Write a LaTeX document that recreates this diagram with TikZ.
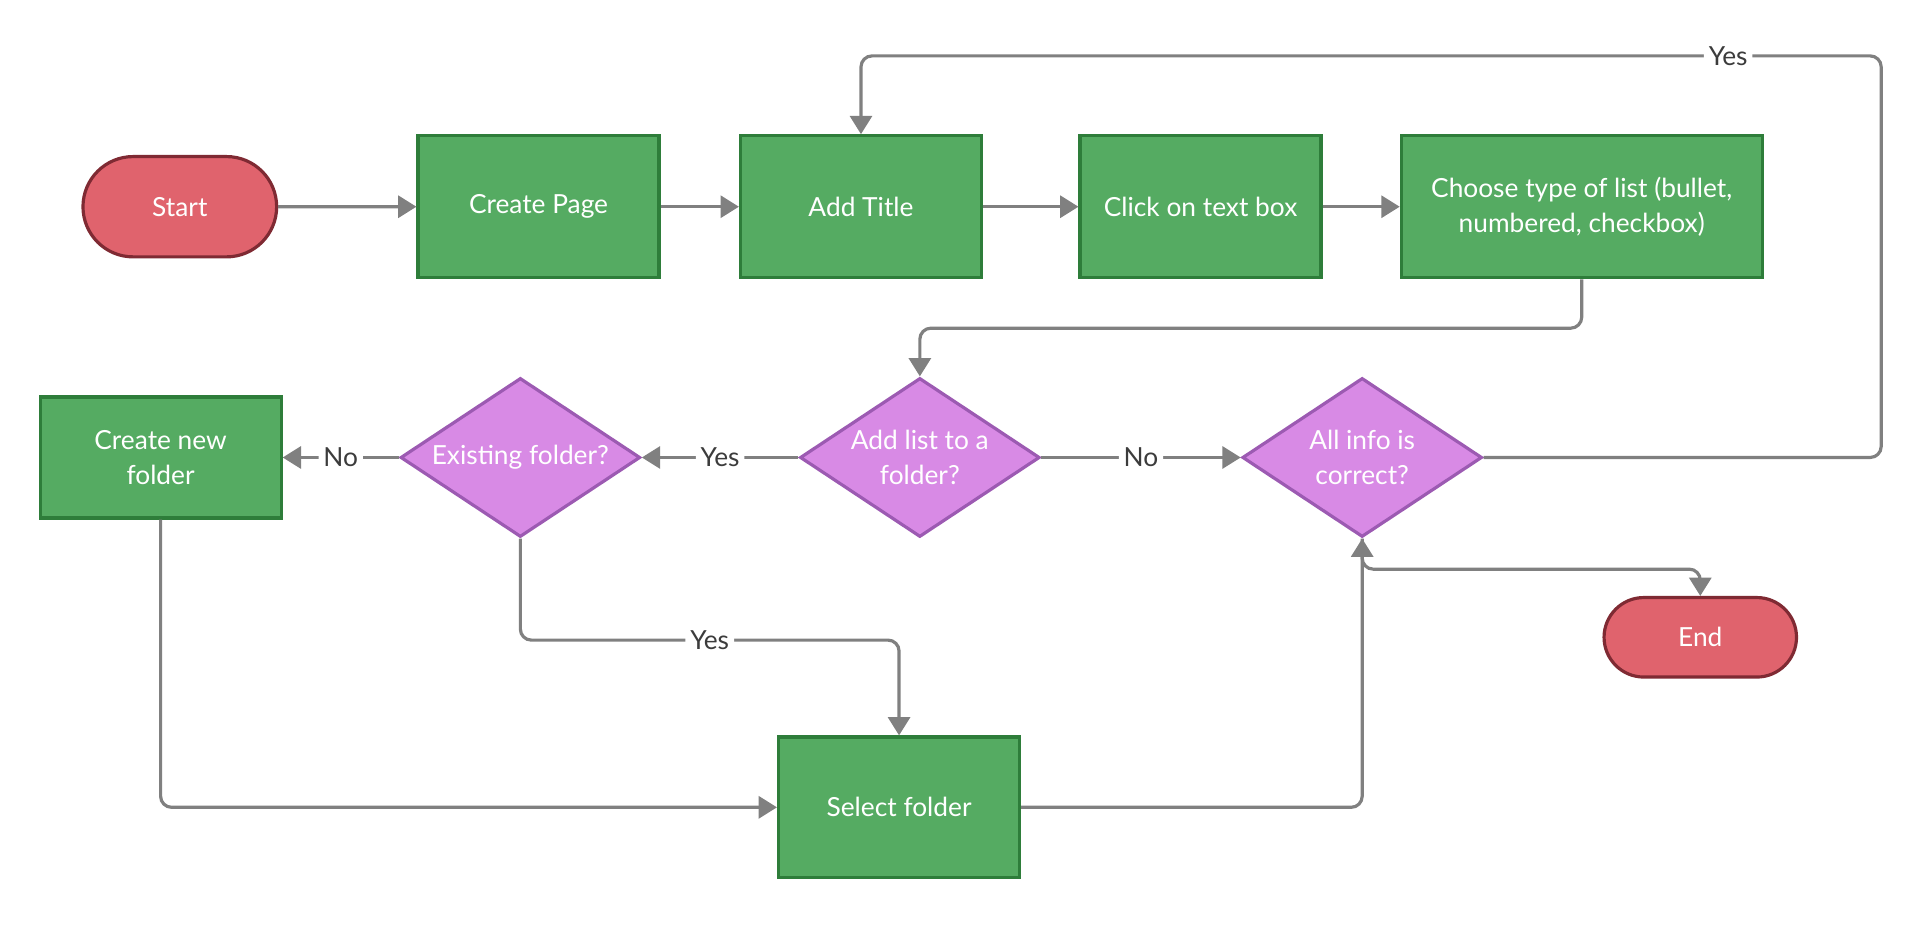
\documentclass[tikz,border=0pt]{standalone}
\usepackage{fontspec}
\setmainfont{Lato}
\usetikzlibrary{
  shapes.geometric, % diamond
  shapes.misc,      % rounded rectangle
  arrows.meta,
  positioning,
  calc
}
\definecolor{boxfill}{HTML}{55AB62}
\definecolor{boxline}{HTML}{2E7D3A}
\definecolor{endfill}{HTML}{E0636D}
\definecolor{endline}{HTML}{7F2A33}
\definecolor{askfill}{HTML}{D88AE5}
\definecolor{askline}{HTML}{9C5AB2}
\definecolor{flowgray}{HTML}{808080}
\definecolor{lbltext}{HTML}{3C3C3C}
\tikzset{
  font=\fontsize{21.5}{29}\selectfont,
  >={Triangle[width=18pt,length=15pt]},
  my box/.style={
    draw=boxline,
    fill=boxfill,
    line width=2.6pt,
    text=white,
    align=center,
    minimum width=197pt,
    minimum height=116pt
  },
  my terminal/.style={
    rounded rectangle,
    draw=endline,
    fill=endfill,
    line width=2.6pt,
    text=white,
    minimum width=165pt
  },
  my question/.style={
    diamond,
    aspect=1.5,
    draw=askline,
    fill=askfill,
    line width=2.6pt,
    text=white,
    align=center,
    inner sep=0pt,
    minimum width=196pt,
    minimum height=130pt
  },
  flow/.style={
    ->,
    draw=flowgray,
    line width=2.6pt,
    rounded corners=9pt
  },
  lbl/.style={
    fill=white,
    text=lbltext,
    inner sep=4pt
  }
}

\begin{document}
\begin{tikzpicture}[x=1pt,y=-1pt]
\useasboundingbox (0,0) rectangle (1568,759);
% top row
\node[my terminal,minimum height=82pt] (start) at (147,169) {Start};
\node[my box] (createpage) [right=113pt of start] {Create Page};
\node[my box] (addtitle) [right=64pt of createpage] {Add Title};
\node[my box] (clicktext) [right=78pt of addtitle] {Click on text box};
\node[my box,minimum width=295pt] (choosetype) [right=63pt of clicktext]
  {Choose type of list (bullet,\\numbered, checkbox)};
% decisions
\node[my question] (addlist) at (752,374) {Add list to a\\folder?};
\node[my question] (existing) [left=128pt of addlist] {Existing folder?};
\node[my box,minimum height=99pt] (newfolder) [left=95pt of existing] {Create new\\folder};
\node[my question] (allinfo) [right=163pt of addlist] {All info is\\correct?};
% bottom
\node[my terminal,minimum width=164pt,minimum height=65pt] (finish) at (1390,521) {End};
\node[my box,minimum height=115pt] (selectfolder) at (735,660) {Select folder};

\path (start) edge[flow] (createpage)
      (createpage) edge[flow] (addtitle)
      (addtitle) edge[flow] (clicktext)
      (clicktext) edge[flow] (choosetype);
\draw[flow] (choosetype.south) -- ++(0,-40pt) -| (addlist.north);
\draw[flow] (addlist) -- node[lbl]{Yes} (existing);
\draw[flow] (existing) -- node[lbl]{No} (newfolder);
\draw[flow] (addlist) -- node[lbl]{No} (allinfo);
\draw[flow] (allinfo.east) -- ++(325pt,0) |- ($(addtitle.north)+(0,64pt)$)
  node[lbl,pos=0.575]{Yes} -- (addtitle.north);
\draw[flow] (existing.south) -- ++(0,-83pt) -| node[lbl,pos=0.25]{Yes} (selectfolder.north);
\draw[flow] (newfolder.south) |- (selectfolder.west);
\draw[flow] (selectfolder.east) -| (allinfo.south);
\draw[flow] (allinfo.south) -- ++(0,-25pt) -| (finish.north);
\end{tikzpicture}
\end{document}
